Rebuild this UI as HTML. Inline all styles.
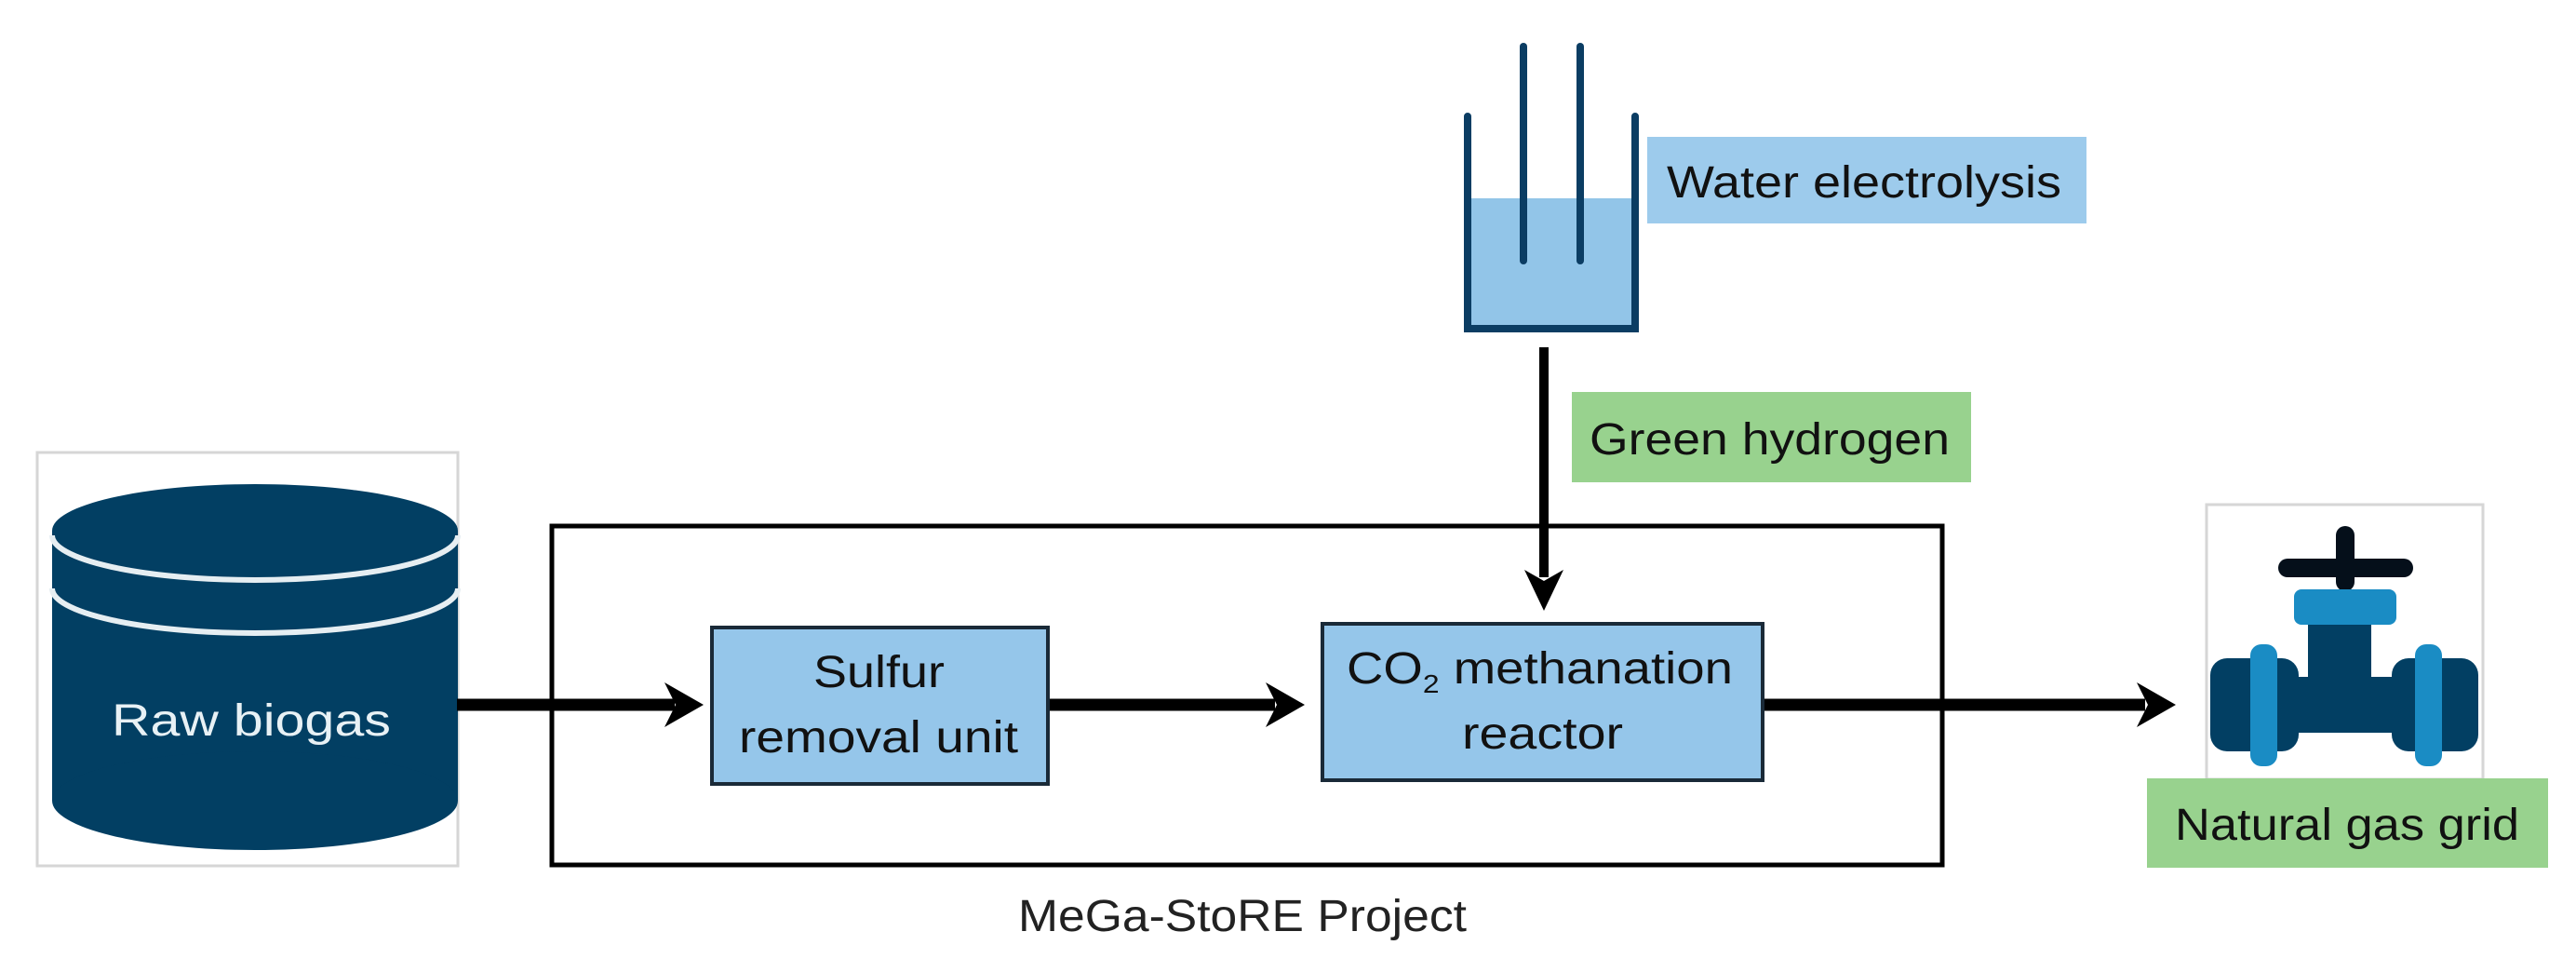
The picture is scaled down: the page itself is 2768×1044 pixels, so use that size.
<!DOCTYPE html>
<html><head><meta charset="utf-8"><style>
html,body{margin:0;padding:0;background:#fff;}
svg{display:block;}
text{font-family:"Liberation Sans",sans-serif;font-size:48px;}
</style></head><body>
<svg width="2768" height="1044" viewBox="0 0 2768 1044" xmlns="http://www.w3.org/2000/svg">
<defs>
<marker id="ah" markerWidth="10" markerHeight="10" refX="0" refY="0" orient="auto" viewBox="-1 -5 10 10"/>
</defs>
<!-- electrolysis beaker -->
<rect x="1577" y="213" width="180" height="140" fill="#92c5e8"/>
<path d="M1577 125 V353 H1757 V125" fill="none" stroke="#0b3d63" stroke-width="8" stroke-linecap="round"/>
<line x1="1637" y1="50" x2="1637" y2="280" stroke="#0b3d63" stroke-width="8" stroke-linecap="round"/>
<line x1="1698" y1="50" x2="1698" y2="280" stroke="#0b3d63" stroke-width="8" stroke-linecap="round"/>
<rect x="1770" y="147" width="472" height="93" fill="#9dcbec"/>
<text x="1791" y="212" textLength="424" lengthAdjust="spacingAndGlyphs" fill="#111">Water electrolysis</text>

<!-- vertical arrow -->
<line x1="1659" y1="373" x2="1659" y2="620" stroke="#000" stroke-width="10"/>
<polygon points="1638,612 1659,656 1680,612 1659,624" fill="#000"/>
<rect x="1689" y="421" width="429" height="97" fill="#98d28e"/>
<text x="1708" y="488" textLength="387" lengthAdjust="spacingAndGlyphs" fill="#111">Green hydrogen</text>

<!-- raw biogas -->
<rect x="40" y="486" width="452" height="444" fill="#fff" stroke="#d6d6d6" stroke-width="3"/>
<rect x="56" y="570" width="436" height="290" fill="#023f63"/>
<ellipse cx="274" cy="860" rx="218" ry="53" fill="#023f63"/>
<ellipse cx="274" cy="570" rx="218" ry="50" fill="#023f63"/>
<path d="M56 575 A218 48 0 0 0 492 575" fill="none" stroke="#e6eef2" stroke-width="6"/>
<path d="M56 632 A218 48 0 0 0 492 632" fill="none" stroke="#e6eef2" stroke-width="6"/>
<text x="120" y="790" textLength="300" lengthAdjust="spacingAndGlyphs" fill="#e8f1f5">Raw biogas</text>

<!-- project frame -->
<rect x="593" y="565" width="1494" height="364" fill="none" stroke="#000" stroke-width="5"/>
<text x="1094" y="1000" textLength="482" lengthAdjust="spacingAndGlyphs" fill="#222" font-size="44">MeGa-StoRE Project</text>

<!-- arrows -->
<line x1="491" y1="757" x2="725" y2="757" stroke="#000" stroke-width="13"/>
<polygon points="714,733 756,757 714,781 726,757" fill="#000"/>
<line x1="1128" y1="757" x2="1370" y2="757" stroke="#000" stroke-width="13"/>
<polygon points="1360,733 1402,757 1360,781 1372,757" fill="#000"/>
<line x1="1896" y1="757" x2="2305" y2="757" stroke="#000" stroke-width="13"/>
<polygon points="2296,733 2338,757 2296,781 2308,757" fill="#000"/>

<!-- sulfur box -->
<rect x="765" y="674" width="361" height="168" fill="#95c6ea" stroke="#1a2a38" stroke-width="4"/>
<text x="874" y="738" textLength="141" lengthAdjust="spacingAndGlyphs" fill="#111">Sulfur</text>
<text x="794" y="808" textLength="300" lengthAdjust="spacingAndGlyphs" fill="#111">removal unit</text>

<!-- CO2 box -->
<rect x="1421" y="670" width="473" height="168" fill="#95c6ea" stroke="#1a2a38" stroke-width="4"/>
<text x="1447" y="734" fill="#111" textLength="415" lengthAdjust="spacingAndGlyphs">CO<tspan font-size="28" dy="10">2</tspan><tspan dy="-10"> methanation</tspan></text>
<text x="1571" y="804" textLength="173" lengthAdjust="spacingAndGlyphs" fill="#111">reactor</text>

<!-- valve -->
<rect x="2371" y="542" width="297" height="295" fill="#fff" stroke="#d6d6d6" stroke-width="3"/>
<rect x="2448" y="600" width="145" height="20" rx="10" fill="#050f1a"/>
<rect x="2510" y="565" width="20" height="70" rx="10" fill="#050f1a"/>
<rect x="2480" y="665" width="68" height="70" fill="#023f63"/>
<rect x="2465" y="633" width="110" height="38" rx="8" fill="#1a8cc4"/>
<rect x="2390" y="727" width="260" height="60" fill="#023f63"/>
<rect x="2375" y="707" width="95" height="100" rx="18" fill="#023f63"/>
<rect x="2570" y="707" width="93" height="100" rx="18" fill="#023f63"/>
<rect x="2418" y="692" width="29" height="131" rx="12" fill="#1a8cc4"/>
<rect x="2595" y="692" width="29" height="131" rx="12" fill="#1a8cc4"/>
<rect x="2307" y="836" width="431" height="96" fill="#98d28e"/>
<text x="2337" y="902" textLength="370" lengthAdjust="spacingAndGlyphs" fill="#111">Natural gas grid</text>
</svg>
</body></html>
